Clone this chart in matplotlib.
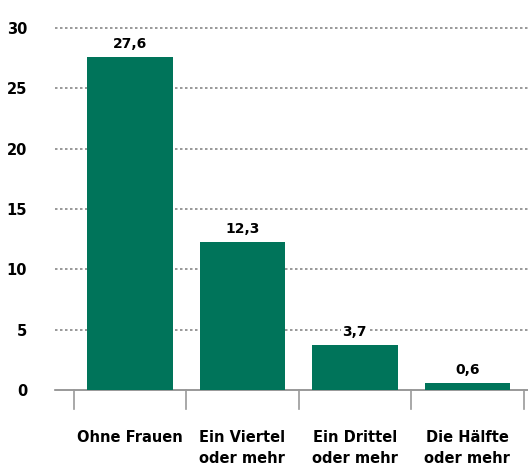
import matplotlib
matplotlib.use('agg')
import matplotlib.pyplot as plt
import numpy as np

categories = ["Ohne Frauen", "Ein Viertel\noder mehr", "Ein Drittel\noder mehr", "Die Hälfte\noder mehr"]
values = [27.6, 12.3, 3.7, 0.6]
yticks = [0, 5, 10, 15, 20, 25, 30]

green = '#00745a'
font = ['Liberation Sans Narrow', 'DejaVu Sans']

fig = plt.figure(figsize=(5.28, 4.67), dpi=100)
ax = fig.add_axes([0.104, 0.165, 0.896, 0.775])

x = np.arange(len(categories))
ax.bar(x, values, width=0.76, color=green, zorder=3)

# dotted grid lines, solid baseline
for y in yticks[1:]:
    ax.axhline(y, color='#888888', lw=1.2, ls=(0, (1.5, 1.5)), zorder=1, clip_on=False)
ax.axhline(0, color='#888888', lw=1.2, zorder=2, clip_on=False)

# value labels
for xi, v in zip(x, values):
    ax.text(xi, v + 0.5, ("%.1f" % v).replace('.', ','), ha='center', va='bottom',
            fontsize=10, fontweight='bold', family=font, zorder=4,
            bbox=dict(facecolor='white', edgecolor='none', pad=1))

# category divider ticks below the baseline
for b in np.arange(len(categories) + 1) - 0.5:
    ax.plot([b, b], [0, -1.6], color='#999999', lw=1.2, clip_on=False)

ax.set_xlim(-0.667, 3.54)
ax.set_ylim(0, 30)
ax.set_yticks(yticks)
ax.set_yticklabels([str(t) for t in yticks], fontsize=10.5, fontweight='bold', family=font)
ax.tick_params(axis='y', length=0, pad=20)
ax.set_xticks(x)
ax.set_xticklabels(categories, fontsize=10.5, fontweight='bold', family=font, linespacing=1.5)
ax.tick_params(axis='x', length=0, pad=29)
for lbl in ax.get_xticklabels():
    lbl.set_verticalalignment('top')

for s in ax.spines.values():
    s.set_visible(False)

plt.savefig('out.png', dpi=100)
